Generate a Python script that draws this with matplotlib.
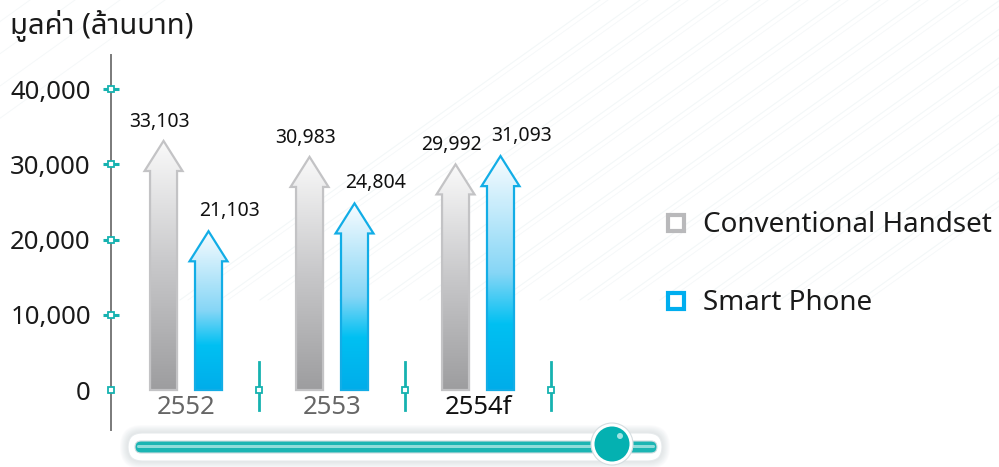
import matplotlib
matplotlib.use('Agg')
import numpy as np
import matplotlib.pyplot as plt
from matplotlib.patches import Polygon, FancyBboxPatch, Circle
from matplotlib.lines import Line2D
from matplotlib.colors import LinearSegmentedColormap

plt.rcParams['font.family'] = ['Noto Sans Thai', 'DejaVu Sans']

# data
years = ['2552', '2553', '2554f']
conventional = [33103, 30983, 29992]
smart_phone = [21103, 24804, 31093]
series_names = ['Conventional Handset', 'Smart Phone']
y_ticks = [0, 10000, 20000, 30000, 40000]
title = 'มูลค่า (ล้านบาท)'

teal = '#16b2b0'
gray_edge = '#c3c3c5'
blue_edge = '#12ade6'
gray_cmap = LinearSegmentedColormap.from_list('g', ['#9d9d9f', '#c8c8ca', '#fafafa'])
blue_cmap = LinearSegmentedColormap.from_list(
    'b', [(0, '#00adea'), (0.28, '#00c0f2'), (0.5, '#86d6f6'), (1, '#f8fcff')])

fig = plt.figure(figsize=(9.99, 4.67), dpi=100)

# background + slider decoration
sl = fig.add_axes([0, 0, 1, 1], zorder=0)
sl.set_xlim(0, 999)
sl.set_ylim(467, 0)
sl.axis('off')
for x0 in range(600, 1300, 40):
    sl.plot([x0, x0 - 420], [0, 300], color='#f3f7f8', lw=0.8)
    sl.plot([x0 + 8, x0 - 412], [0, 300], color='#f5f8f9', lw=0.6)
for x0 in range(-60, 200, 45):
    sl.plot([x0, x0 - 300], [0, 215], color='#f5f8f9', lw=0.7)
for k in range(8, 0, -1):
    sl.add_patch(FancyBboxPatch((128 - k, 433 - k), 534 + 2 * k, 28 + 2 * k,
                                boxstyle='round,pad=0,rounding_size=%d' % (14 + k),
                                fc='#9aa6ae', ec='none', alpha=0.035))
sl.add_patch(FancyBboxPatch((128, 433), 534, 28, boxstyle='round,pad=0,rounding_size=14',
                            fc='white', ec='#e6eaec', lw=0.8))
sl.add_patch(FancyBboxPatch((135, 441), 522, 12, boxstyle='round,pad=0,rounding_size=6',
                            fc='#1bb5b3', ec='#d0dcdf', lw=0.8))
sl.add_patch(FancyBboxPatch((137, 445), 518, 3, boxstyle='round,pad=0,rounding_size=1.5',
                            fc='#8fdcda', ec='none'))
sl.add_patch(Circle((612, 444), 21, fc='white', ec='#d5dde0', lw=0.8))
sl.add_patch(Circle((612, 444), 17.5, fc='#04b1b1', ec='none'))
sl.add_patch(Circle((620, 436), 3, fc='#9fe3e2', ec='none'))

# main axes
ax = fig.add_axes([0.1111, 0.0792, 0.4545, 0.803], zorder=2)
ax.patch.set_alpha(0)
ax.set_xlim(-0.514, 2.596)
ax.set_ylim(-5316, 44518)
for s in ['top', 'right', 'bottom']:
    ax.spines[s].set_visible(False)
ax.spines['left'].set_color('#7a7a7a')
ax.spines['left'].set_linewidth(1.4)
ax.set_xticks([])
ax.set_yticks(y_ticks)
ax.set_yticklabels(['{:,}'.format(v) for v in y_ticks], fontsize=18.5, color='#1a1a1a')
ax.tick_params(axis='y', direction='inout', length=11, width=2.2, color=teal, pad=9)
ax.yaxis.get_major_ticks()[0].tick1line.set_visible(False)
ax.plot(np.zeros(len(y_ticks)), y_ticks, transform=ax.get_yaxis_transform(), ls='none',
        marker='s', ms=5, mfc='white', mec=teal, mew=1.3, clip_on=False, zorder=5)

sw, hw, hh = 0.0925, 0.13, 4000
offset = 0.154


def arrow(c, v, cmap, edge):
    pts = [(c - sw, 0), (c + sw, 0), (c + sw, v - hh), (c + hw, v - hh), (c, v),
           (c - hw, v - hh), (c - sw, v - hh)]
    poly = Polygon(pts, closed=True, fc='none', ec=edge, lw=1.6, zorder=4, joinstyle='miter')
    ax.add_patch(poly)
    grad = np.linspace(0, 1, 256).reshape(-1, 1)
    im = ax.imshow(grad, cmap=cmap, origin='lower', aspect='auto',
                   extent=[c - hw, c + hw, 0, v], zorder=3)
    im.set_clip_path(poly)


for i, (g, b) in enumerate(zip(conventional, smart_phone)):
    arrow(i - offset, g, gray_cmap, gray_edge)
    arrow(i + offset, b, blue_cmap, blue_edge)
    ax.text(i - offset - 0.03, g + 2550, '{:,}'.format(g), ha='center', va='center',
            fontsize=14, color='#111')
    ax.text(i + offset + 0.145, b + 2650, '{:,}'.format(b), ha='center', va='center',
            fontsize=14, color='#111')
    ax.text(i, -2350, years[i], ha='center', va='center', fontsize=18.5,
            color='#111' if i == len(years) - 1 else '#666')
    ax.plot([i + 0.5, i + 0.5], [3700, -2650], color=teal, lw=2, zorder=4)
    ax.plot([i + 0.5], [0], ls='none', marker='s', ms=5, mfc='white', mec=teal, mew=1.3, zorder=5)
ax.set_aspect('auto')

fig.text(0.010, 0.945, title, fontsize=21, color='#1a1a1a', va='center', ha='left')

handles = [Line2D([], [], ls='none', marker='s', ms=11, mfc='white', mec=c, mew=3)
           for c in ['#b9b9bb', '#00aeef']]
fig.legend(handles, series_names, loc='center left', bbox_to_anchor=(0.638, 0.434),
           frameon=False, fontsize=20, labelspacing=1.8, handletextpad=0.45,
           handlelength=1.0, labelcolor='#1a1a1a')

fig.savefig('out.png', dpi=100)
